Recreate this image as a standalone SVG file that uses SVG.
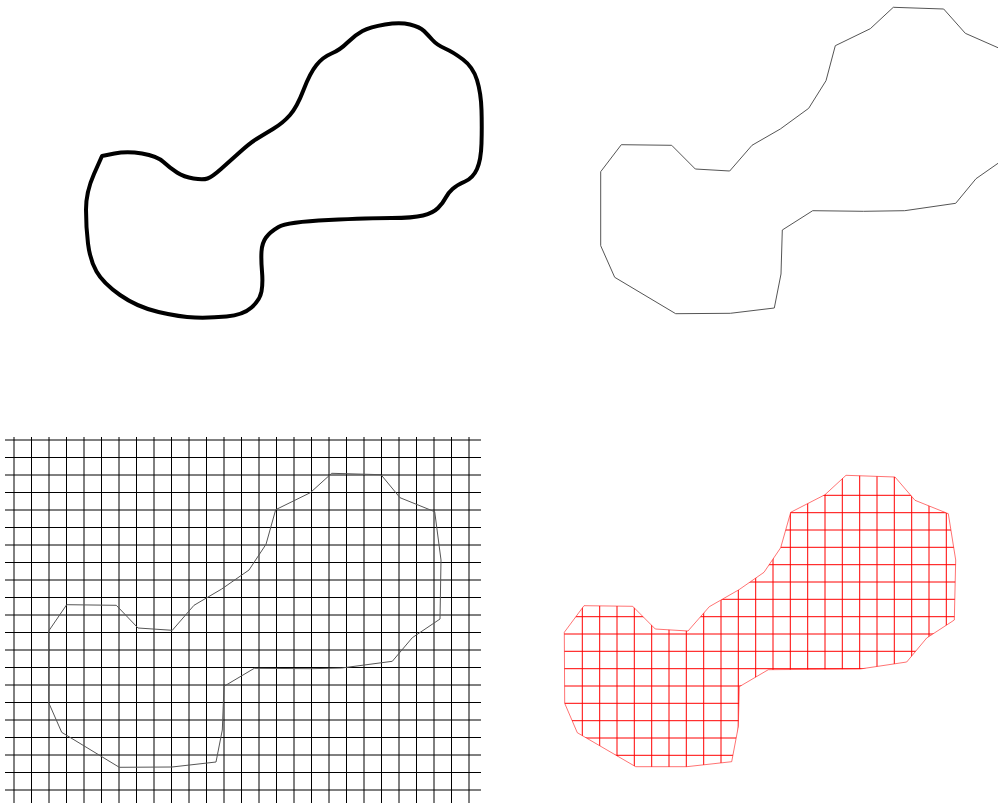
<svg xmlns="http://www.w3.org/2000/svg" width="998" height="804" viewBox="0 0 998 804">
<style>
.thick{fill:none;stroke:#000;stroke-width:4;stroke-linejoin:round}
.poly{fill:none;stroke:#555;stroke-width:1}
.grid{fill:none;stroke:#000;stroke-width:1}
.rgrid{fill:none;stroke:#ff0000;stroke-width:1}
.rpoly{fill:none;stroke:#ff0000;stroke-opacity:0.55;stroke-width:1}
</style>
<defs>
<clipPath id="redclip">
<polygon points="584,605.7 632.7,606.3 655.3,629 688,631 709.3,606.7 739,589.7 764,572.3 780.7,547.7 790.7,512.3 825,494.7 846,475.3 895,477 915,500.3 948.3,513.7 955.7,560 954.3,620 926.7,638 906.7,662 860,669 768.3,669.7 739.3,686.7 738.3,726.7 731.7,761.7 686.7,766.7 635.7,766.7 577.3,732.7 564.7,703.3 564.3,632.3"/>
</clipPath>
</defs>
<rect width="998" height="804" fill="#fff"/>
<g id="smooth-shape">
<path class="thick" d="M 114.5,153.5 Q 127,151 142,153.5 Q 157,156 163.5,162 Q 170,168 177,172.5 Q 184,177 193.5,178.5 Q 203,180 207.5,178.5 Q 212,177 221,169 Q 230,161 240,152 Q 250,143 256.5,139 Q 263,135 273,129 Q 283,123 290,115 Q 297,107 303.5,90 Q 310,73 316.5,65 Q 323,57 331.5,53.5 Q 340,50 347.5,42.5 Q 355,35 362.5,31 Q 370,27 385,24.5 Q 400,22 410,24.5 Q 420,27 424,31 Q 428,35 432.5,40 Q 437,45 445,48.5 Q 453,52 463,59.5 Q 473,67 477,80 Q 481,93 481.5,110 Q 482,127 481.5,143.5 Q 481,160 477,169 Q 473,178 465,181.5 Q 457,185 452.5,189 Q 448,193 445.5,198 Q 443,203 438,208 Q 433,213 423,215.5 Q 413,218 391.5,218 Q 370,218 328.5,220 Q 287,222 278.5,227 Q 270,232 266,237.5 Q 262,243 261.5,251.5 Q 261,260 262,271.5 Q 263,283 261.5,291.5 Q 260,300 251.5,307.5 Q 243,315 226.5,316.5 Q 210,318 195,317.5 Q 180,317 158.5,312 Q 137,307 120,295 Q 103,283 96.5,271.5 Q 90,260 88,243.5 Q 86,227 86,209.5 Q 86,192 94,174 L 102,156 L 114.5,153.5 Z"/>
</g>
<g id="polygon-shape">
<polygon class="poly" points="621.3,144.7 671.7,145.3 695.3,169 729.7,171 752,145.3 780.3,129 808.7,108.3 826,80.7 835.3,45.7 870.3,28.7 893.3,7.3 943.7,9 965.3,33.3 1010,53 1010,155 998,163.3 976,178.7 955.7,203.3 904.7,210.7 863.7,211.3 812.7,210.7 782.3,230 781,274 774.3,308 730.3,313.3 675.7,313.7 614.7,277.3 600.7,245.7 600.7,171.7"/>
</g>
<g id="grid-with-polygon">
<path class="grid" d="M5,440H481M5,457.5H481M5,475H481M5,492.5H481M5,510H481M5,527.5H481M5,545H481M5,562.5H481M5,580H481M5,597.5H481M5,615H481M5,632.5H481M5,650H481M5,667.5H481M5,685H481M5,702.5H481M5,720H481M5,737.5H481M5,755H481M5,772.5H481M5,790H481"/>
<path class="grid" d="M14,437V803M31.5,437V803M49,437V803M66.5,437V803M84,437V803M101.5,437V803M119,437V803M136.5,437V803M154,437V803M171.5,437V803M189,437V803M206.5,437V803M224,437V803M241.5,437V803M259,437V803M276.5,437V803M294,437V803M311.5,437V803M329,437V803M346.5,437V803M364,437V803M381.5,437V803M399,437V803M416.5,437V803M434,437V803M451.5,437V803M469,437V803"/>
<polygon class="poly" points="66.7,604.7 116.3,605.3 138,628 172.3,630.3 194,605.3 221.7,589 249,570 266,544.3 275.7,509.7 310.3,492.7 331.7,473.3 381,474.7 400,497.7 434.7,511.7 441,560 440,619 412.3,637.7 392.3,661.3 341.7,668 311.7,668.7 254.3,668.3 224,686.3 222.3,730 216,762 172,767 119.3,767.3 61.7,732.3 48.7,702.7 48.7,631"/>
</g>
<g id="red-gridded-polygon">
<g clip-path="url(#redclip)">
<path class="rgrid" d="M582.3,470V780M599.7,470V780M617,470V780M634.3,470V780M651.7,470V780M669,470V780M686.3,470V780M703.7,470V780M721,470V780M738.3,470V780M755.7,470V780M773,470V780M790.3,470V780M807.7,470V780M825,470V780M842.3,470V780M859.7,470V780M877,470V780M894.3,470V780M911.7,470V780M929,470V780M946.3,470V780"/>
<path class="rgrid" d="M560,495.3H960M560,512.7H960M560,530H960M560,547.3H960M560,564.7H960M560,582H960M560,599.3H960M560,616.7H960M560,634H960M560,651.3H960M560,668.7H960M560,686H960M560,703.3H960M560,720.7H960M560,738H960M560,755.3H960"/>
</g>
<polygon class="rpoly" points="584,605.7 632.7,606.3 655.3,629 688,631 709.3,606.7 739,589.7 764,572.3 780.7,547.7 790.7,512.3 825,494.7 846,475.3 895,477 915,500.3 948.3,513.7 955.7,560 954.3,620 926.7,638 906.7,662 860,669 768.3,669.7 739.3,686.7 738.3,726.7 731.7,761.7 686.7,766.7 635.7,766.7 577.3,732.7 564.7,703.3 564.3,632.3"/>
</g>
</svg>
